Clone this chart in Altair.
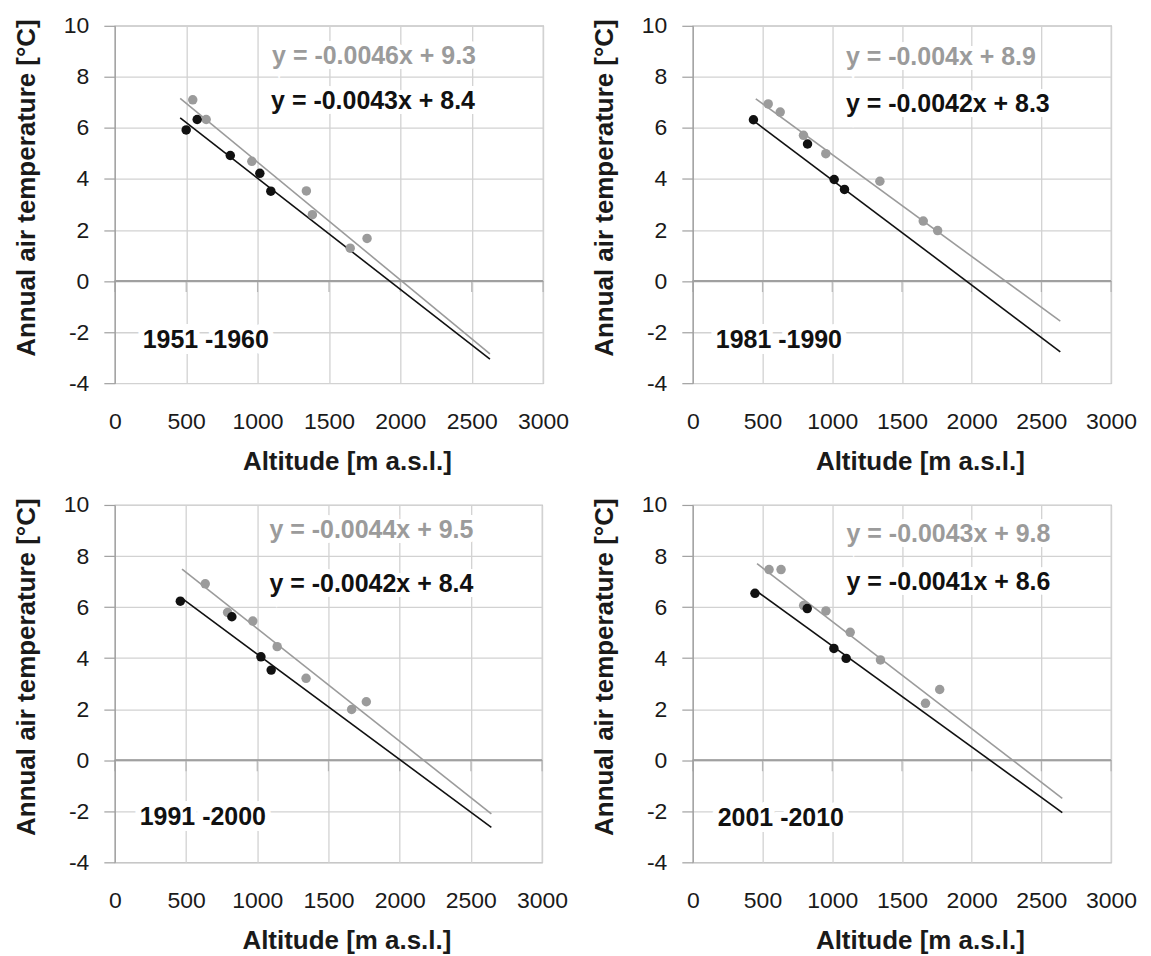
import altair as alt
import pandas as pd

# ---------------- data ----------------
periods = ["1951 -1960", "1981 -1990", "1991 -2000", "2001 -2010"]

black_x = [
    [500, 577, 809, 1016, 1093],
    [435, 823, 1014, 1088],
    [460, 822, 1026, 1098],
    [446, 821, 1012, 1100],
]
black_y = [
    [5.92, 6.33, 4.92, 4.22, 3.52],
    [6.32, 5.37, 3.98, 3.59],
    [6.23, 5.62, 4.05, 3.53],
    [6.54, 5.94, 4.38, 3.99],
]
gray_x = [
    [546, 640, 960, 1342, 1384, 1649, 1767],
    [541, 627, 794, 954, 1342, 1653, 1756],
    [635, 792, 969, 1140, 1343, 1663, 1766],
    [547, 633, 795, 955, 1129, 1346, 1669, 1771],
]
gray_y = [
    [7.10, 6.33, 4.69, 3.53, 2.60, 1.29, 1.67],
    [6.94, 6.62, 5.71, 4.99, 3.91, 2.35, 1.98],
    [6.91, 5.79, 5.45, 4.45, 3.21, 1.99, 2.29],
    [7.47, 7.47, 6.06, 5.85, 5.01, 3.93, 2.23, 2.77],
]
# trend line end points
black_line_x = [[458, 2628], [416, 2636], [472, 2644], [461, 2650]]
black_line_y = [[6.39, -3.06], [6.36, -2.77], [6.34, -2.63], [6.61, -2.05]]
gray_line_x = [[458, 2628], [452, 2636], [472, 2644], [461, 2650]]
gray_line_y = [[7.16, -2.85], [7.14, -1.57], [7.49, -2.10], [7.70, -1.49]]

gray_eq = ["y = -0.0046x + 9.3", "y = -0.004x + 8.9",
           "y = -0.0044x + 9.5", "y = -0.0043x + 9.8"]
black_eq = ["y = -0.0043x + 8.4", "y = -0.0042x + 8.3",
            "y = -0.0042x + 8.4", "y = -0.0041x + 8.6"]

x_ticks = [0, 500, 1000, 1500, 2000, 2500, 3000]
y_ticks = [-4, -2, 0, 2, 4, 6, 8, 10]

# ---------------- placement of annotations (data units) ----------------
gray_eq_pos = [(1102, 8.51), (1098, 8.45), (1086, 8.72), (1103, 8.55)]
black_eq_pos = [(1095, 6.75), (1098, 6.62), (1086, 6.60), (1103, 6.68)]
period_pos = [(195, -2.63), (165, -2.63), (175, -2.55), (179, -2.58)]

widths = [429, 419, 428, 419]
HEIGHT = 358

GRAY = "#9b9b9b"
BLACK = "#111111"
FONT = "Liberation Sans"


def panel(i):
    w = widths[i]
    pts = pd.DataFrame(
        {"x": gray_x[i] + black_x[i],
         "y": gray_y[i] + black_y[i],
         "s": ["g"] * len(gray_x[i]) + ["b"] * len(black_x[i])}
    )
    gl = pd.DataFrame({"x": gray_line_x[i], "y": gray_line_y[i]})
    bl = pd.DataFrame({"x": black_line_x[i], "y": black_line_y[i]})
    txt = pd.DataFrame(
        {"x": [gray_eq_pos[i][0], black_eq_pos[i][0]],
         "y": [gray_eq_pos[i][1], black_eq_pos[i][1]],
         "t": [gray_eq[i], black_eq[i]],
         "c": [GRAY, BLACK]}
    )
    per = pd.DataFrame({"x": [period_pos[i][0]], "y": [period_pos[i][1]],
                        "t": [periods[i]]})
    ticks = pd.DataFrame({"x": x_ticks})

    xs = alt.Scale(domain=[0, 3000], nice=False, zero=False)
    ys = alt.Scale(domain=[-4, 10], nice=False, zero=False)
    xax = alt.Axis(values=x_ticks, grid=True, ticks=False, tickSize=0,
                   domain=False, labelPadding=27, labelFlush=False,
                   labelExpr="toString(datum.value)",
                   title="Altitude [m a.s.l.]",
                   titleX=w / 2 + 18, titleY=78, titleBaseline="middle",
                   titleAlign="center")
    yax = alt.Axis(values=y_ticks, grid=True, tickSize=11, labelPadding=15,
                   labelFlush=False, labelExpr="toString(datum.value)",
                   title="Annual air temperature [°C]", titleAngle=270,
                   titleX=-88, titleY=HEIGHT / 2 - 17, titleBaseline="middle",
                   titleAlign="center")
    X = alt.X("x:Q", scale=xs, axis=xax)
    Y = alt.Y("y:Q", scale=ys, axis=yax)

    zero_rule = alt.Chart(ticks).mark_rule(color="#a0a0a0", strokeWidth=1.2).encode(
        y=alt.datum(0, scale=ys)
    )
    zero_ticks = alt.Chart(ticks).mark_tick(
        orient="vertical", size=11, thickness=1.2, color="#a0a0a0", yOffset=5.5
    ).encode(x=X, y=alt.datum(0, scale=ys))
    gline = alt.Chart(gl).mark_line(color=GRAY, strokeWidth=1.6).encode(x=X, y=Y)
    bline = alt.Chart(bl).mark_line(color=BLACK, strokeWidth=1.6).encode(x=X, y=Y)
    points = alt.Chart(pts).mark_circle(size=90, opacity=1).encode(
        x=X, y=Y,
        color=alt.Color("s:N", scale=alt.Scale(domain=["g", "b"],
                                               range=[GRAY, BLACK]), legend=None),
        order=alt.Order("s:N", sort="descending"),
    )
    halo = alt.Chart(txt).mark_text(
        align="left", baseline="alphabetic", font=FONT, fontSize=25,
        fontWeight="bold", stroke="white", strokeWidth=10, fill="white"
    ).encode(x=X, y=Y, text="t:N")
    eqs = alt.Chart(txt).mark_text(
        align="left", baseline="alphabetic", font=FONT, fontSize=25,
        fontWeight="bold"
    ).encode(x=X, y=Y, text="t:N", color=alt.Color("c:N", scale=None))
    phalo = alt.Chart(per).mark_text(
        align="left", baseline="alphabetic", font=FONT, fontSize=25,
        fontWeight="bold", stroke="white", strokeWidth=12, fill="white"
    ).encode(x=X, y=Y, text="t:N")
    ptxt = alt.Chart(per).mark_text(
        align="left", baseline="alphabetic", font=FONT, fontSize=25,
        fontWeight="bold", color=BLACK
    ).encode(x=X, y=Y, text="t:N")

    return alt.layer(zero_rule, zero_ticks, gline, bline, points, halo, eqs,
                     phalo, ptxt).properties(width=w, height=HEIGHT)


chart = alt.concat(
    panel(0), panel(1), panel(2), panel(3),
    columns=2, spacing={"row": 122, "column": 150}, bounds="flush", align="all",
).configure_view(
    stroke="#a8a8a8", strokeWidth=1.2
).configure_axis(
    labelFont=FONT, labelFontSize=23, labelColor="#1a1a1a",
    titleFont=FONT, titleFontSize=26, titleFontWeight="bold", titleColor="#1a1a1a",
    gridColor="#d2d2d2", gridWidth=1.3, domainColor="#a0a0a0", domainWidth=1.2,
    tickColor="#a0a0a0", tickWidth=1.2,
).properties(background="white", padding=5)

chart.save("out.html", embed_options={"renderer": "svg", "actions": False})
